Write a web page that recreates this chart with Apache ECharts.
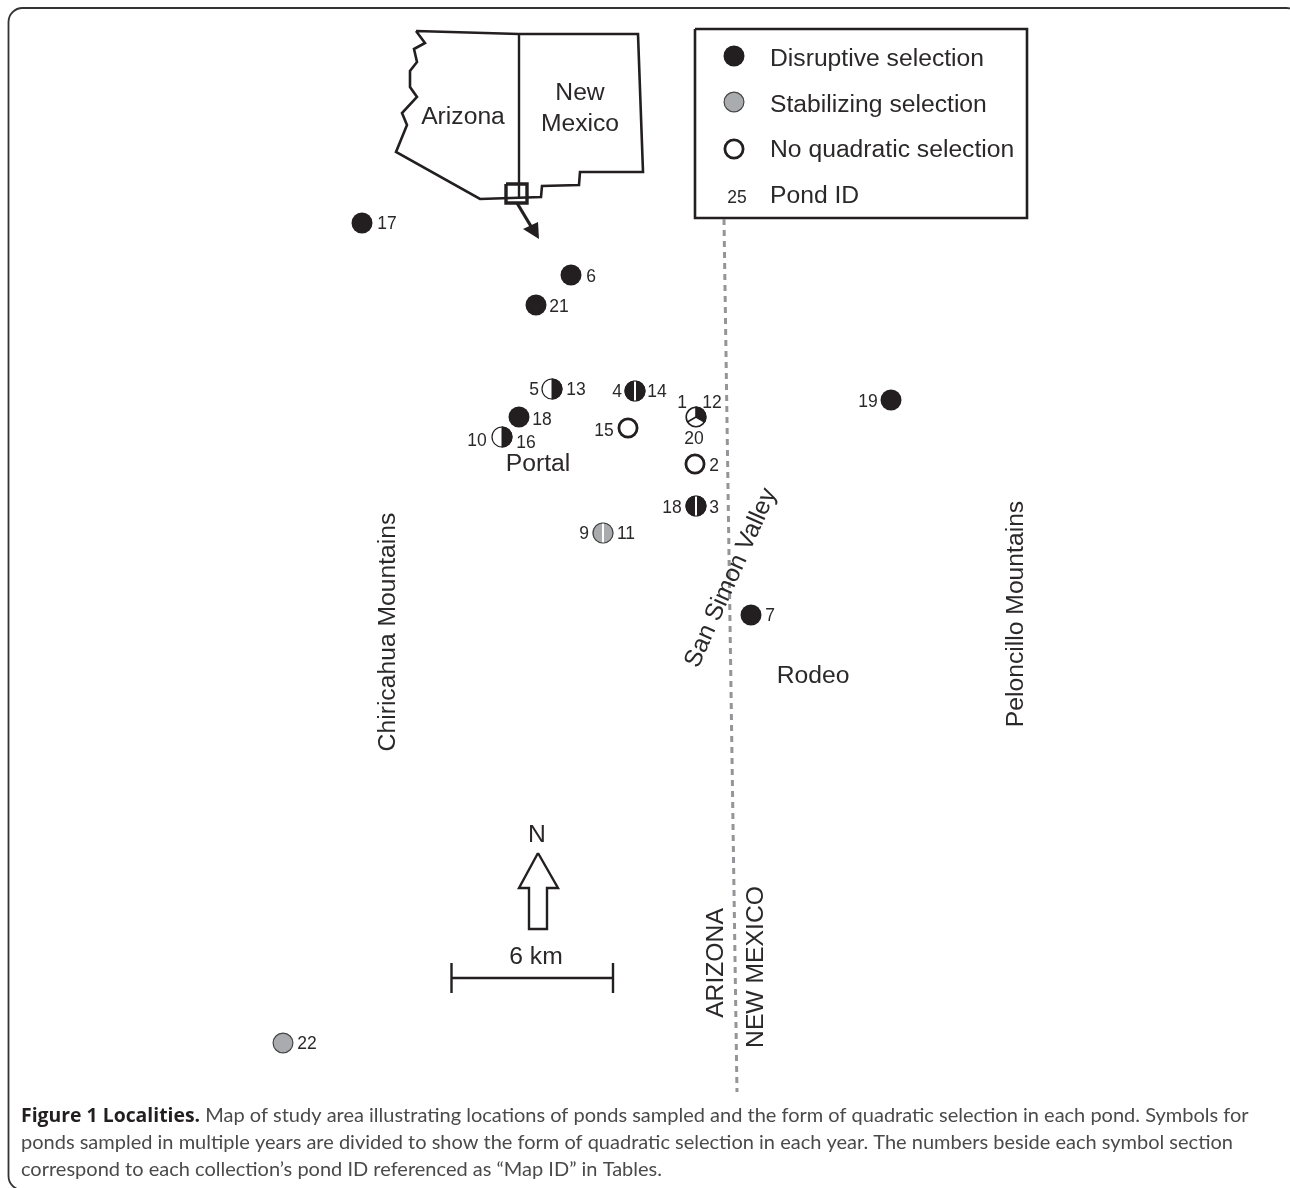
<!DOCTYPE html>
<html><head><meta charset="utf-8">
<style>html,body{margin:0;padding:0;background:#fff}#c{width:1290px;height:1188px}</style>
<script src="https://cdn.jsdelivr.net/npm/echarts@6/dist/echarts.min.js"></script>
</head><body><div id="c"></div>
<script>
// Ponds: x, y (map coordinates), parts in clockwise order from the left: D disruptive, S stabilizing, N none
const ponds = [
  [362,223,'D'],[571,275,'D'],[536,305,'D'],[519,417,'D'],[891,400,'D'],[751,615,'D'],
  [283,1043,'S'],[628,428,'N'],[695,464,'N'],
  [552,389,'ND'],[502,437,'ND'],[635,391,'DD'],[696,506,'DD'],[603,533,'SS'],
  [696,417,'NDN']
];
const legendMarks = [[734,56,'D'],[734,102,'S'],[734,149,'N']];
const pondLabels = [
  [387,224,'17'],[591,277,'6'],[559,307,'21'],[534,390,'5'],[576,390,'13'],[617,392,'4'],[657,392,'14'],
  [682,403,'1'],[712,403,'12'],[542,420,'18'],[477,441,'10'],[526,443,'16'],[604,431,'15'],[694,439,'20'],
  [714,466,'2'],[672,508,'18'],[714,508,'3'],[584,534,'9'],[626,534,'11'],[770,616,'7'],[868,402,'19'],
  [307,1044,'22'],[737,198,'25']
];
const placeLabels = [
  [463,117,'Arizona',0],[580,93,'New',0],[580,124,'Mexico',0],[538,464,'Portal',0],[813,676,'Rodeo',0],
  [388,632,'Chiricahua Mountains',90],[1016,614,'Peloncillo Mountains',90],[731,578,'San Simon Valley',66],
  [716,963,'ARIZONA',90],[756,967,'NEW MEXICO',90],[537,835,'N',0],[536,957,'6 km',0]
];
const legendLabels = [[770,59,'Disruptive selection'],[770,105,'Stabilizing selection'],[770,150,'No quadratic selection'],[770,196,'Pond ID']];
const stateOutline = [[416,31],[519,34],[638,34],[643,172],[580,172],[579,185],[542,186],[541,197],[480,199],[396,152],[407,125],[402,113],[417,97],[410,87],[410,71],[417,62],[414,49],[425,43],[416,31]];
const stateBorder = [[519,34],[519,199]];
const cornerBox = [[506,184],[527,184],[527,203],[506,203],[506,184]];
const insetArrowShaft = [[517,203],[532,228]];
const insetArrowHead = [[539,239],[523,229],[538,222]];
const legendBox = [[695,29],[1027,29],[1027,218],[695,218],[695,29]];
const politicalBorder = [[724,219],[737,1092]];
const northArrow = [[538,853],[558,888],[547,888],[547,929],[529,929],[529,888],[519,888],[538,853]];
const scaleBar = [[451.5,978],[613,978]];
const scaleTickL = [[451.5,963],[451.5,993]];
const scaleTickR = [[613,963],[613,993]];
const captionLines = [
  '{b|Figure 1 Localities.} Map of study area illustrating locations of ponds sampled and the form of quadratic selection in each pond. Symbols for',
  'ponds sampled in multiple years are divided to show the form of quadratic selection in each year. The numbers beside each symbol section',
  'correspond to each collection\u2019s pond ID referenced as \u201cMap ID\u201d in Tables.'
];
const captionY = [1116,1143,1170];
const captionX = 21;

const INK='#231f20', GRAY='#a9abae', R=10.5;
const fills={D:INK,S:GRAY,N:'#fff'};

function mark(params, api, item){
  const c=api.coord([item[0],item[1]]), parts=item[2], kids=[];
  const x=c[0], y=c[1];
  if(parts.length===1){
    const k=parts;
    const sw=k==='N'?2.8:(k==='S'?1.2:0);
    kids.push({type:'circle',shape:{cx:x,cy:y,r:R-sw/2},style:{fill:fills[k],stroke:k==='D'?null:(k==='S'?'#444':INK),lineWidth:sw}});
  } else if(parts.length===2){
    kids.push({type:'sector',shape:{cx:x,cy:y,r:R,r0:0,startAngle:Math.PI/2,endAngle:Math.PI*3/2},style:{fill:fills[parts[0]]}});
    kids.push({type:'sector',shape:{cx:x,cy:y,r:R,r0:0,startAngle:-Math.PI/2,endAngle:Math.PI/2},style:{fill:fills[parts[1]]}});
    const same=parts[0]===parts[1];
    kids.push({type:'line',shape:{x1:x,y1:y-R,x2:x,y2:y+R},style:{stroke:same?'#fff':INK,lineWidth:same?2:1}});
    kids.push({type:'circle',shape:{cx:x,cy:y,r:R-0.5},style:{fill:'none',stroke:parts==='SS'?'#444':INK,lineWidth:1.2}});
  } else {
    const a=[-Math.PI/2,Math.PI/6,Math.PI*5/6];
    kids.push({type:'sector',shape:{cx:x,cy:y,r:R,r0:0,startAngle:a[0],endAngle:a[1]},style:{fill:fills.D}});
    a.forEach(t=>kids.push({type:'line',shape:{x1:x,y1:y,x2:x+R*Math.cos(t),y2:y+R*Math.sin(t)},style:{stroke:INK,lineWidth:1.6}}));
    kids.push({type:'circle',shape:{cx:x,cy:y,r:R-0.7},style:{fill:'none',stroke:INK,lineWidth:1.6}});
  }
  return {type:'group',children:kids};
}
function polyline(name,data,color,width,extra){
  return Object.assign({name,type:'line',data,symbol:'none',silent:true,animation:false,z:2,
    lineStyle:{color:color,width:width,join:'miter',cap:'butt'}},extra||{});
}
function textSeries(name,data,size,color,align){
  return {name,type:'custom',coordinateSystem:'cartesian2d',data,silent:true,animation:false,z:5,
    encode:{x:0,y:1},
    renderItem(p,api){
      const d=data[p.dataIndex],c=api.coord([d[0],d[1]]);
      return {type:'text',x:c[0],y:c[1],rotation:(d[3]||0)*Math.PI/180,
        style:{text:d[2],fill:color,font:size+'px "Liberation Sans"',align:align,verticalAlign:'middle'}};
    }};
}
const chart=echarts.init(document.getElementById('c'),null,{renderer:'canvas'});
chart.setOption({
  backgroundColor:'#fff',animation:false,
  grid:{left:0,top:0,right:0,bottom:0},
  xAxis:{type:'value',min:0,max:1290,show:false},
  yAxis:{type:'value',min:0,max:1188,inverse:true,show:false},
  graphic:[{type:'rect',shape:{x:8.5,y:8,width:1292,height:1182,r:14},style:{fill:'none',stroke:'#333',lineWidth:1.8},z:1}],
  series:[
    polyline('state',stateOutline,INK,2.6),
    polyline('stateBorder',stateBorder,INK,2.4),
    polyline('corner',cornerBox,INK,3.4),
    polyline('shaft',insetArrowShaft,INK,3.2),
    {name:'head',type:'custom',data:[0],silent:true,animation:false,z:3,
      renderItem(p,api){return {type:'polygon',shape:{points:insetArrowHead.map(q=>api.coord(q))},style:{fill:INK}};}},
    polyline('legendBox',legendBox,INK,2.6),
    polyline('border',politicalBorder,'#939598',3,{lineStyle:{color:'#939598',width:3,type:[6,5]}}),
    polyline('north',northArrow,INK,2.4),
    polyline('scale',scaleBar,INK,2.4),
    polyline('tickL',scaleTickL,INK,2.4),
    polyline('tickR',scaleTickR,INK,2.4),
    {name:'ponds',type:'custom',data:ponds,silent:true,animation:false,z:4,encode:{x:0,y:1},
      renderItem(p,api){return mark(p,api,ponds[p.dataIndex]);}},
    {name:'legendMarks',type:'custom',data:legendMarks,silent:true,animation:false,z:4,encode:{x:0,y:1},
      renderItem(p,api){return mark(p,api,legendMarks[p.dataIndex]);}},
    textSeries('pondLabels',pondLabels,17.5,'#2b2829','center'),
    textSeries('places',placeLabels,24.7,'#2b2829','center'),
    textSeries('legendText',legendLabels,24.7,'#2b2829','left'),
    {name:'caption',type:'custom',data:captionLines.map((t,i)=>[captionX,captionY[i],t]),silent:true,animation:false,z:5,encode:{x:0,y:1},
      renderItem(p,api){
        const c=api.coord([captionX,captionY[p.dataIndex]]);
        return {type:'text',x:c[0],y:c[1],style:{text:captionLines[p.dataIndex],fill:'#4a4a4a',font:'20px "Lato"',align:'left',verticalAlign:'middle',
          rich:{b:{fill:'#231f20',font:'bold 19.4px "Open Sans"'}}}};
      }}
  ]
});
</script></body></html>
